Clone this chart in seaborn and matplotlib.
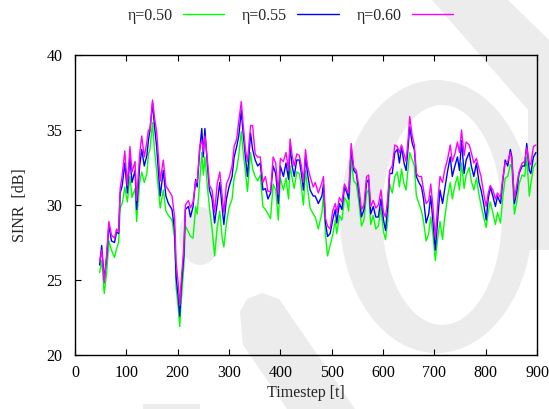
import numpy as np
import pandas as pd
import matplotlib
matplotlib.use("Agg")
import matplotlib.pyplot as plt
from matplotlib.patches import Ellipse, Polygon, Rectangle
import seaborn as sns

# Simulation timesteps shared by all three runs
timestep = [48, 52, 57, 62, 66, 71, 77, 81, 85, 88, 92, 97, 102, 107, 111, 117, 120, 126, 130, 135,
            140, 143, 146, 151, 155, 159, 166, 172, 177, 182, 189, 194, 197, 201, 204, 207, 212, 215, 221, 225,
            230, 235, 238, 243, 247, 250, 253, 258, 262, 267, 272, 277, 282, 287, 290, 295, 300, 306, 310, 315,
            319, 324, 327, 332, 336, 342, 346, 351, 356, 361, 366, 371, 376, 381, 386, 391, 396, 400, 406, 411,
            416, 419, 423, 427, 432, 437, 441, 445, 449, 453, 458, 464, 468, 474, 481, 484, 488, 492, 497, 502,
            507, 510, 515, 520, 525, 530, 533, 538, 543, 548, 553, 558, 563, 568, 572, 576, 581, 586, 591, 596,
            601, 605, 609, 613, 618, 623, 628, 632, 636, 641, 645, 649, 652, 657, 661, 665, 670, 675, 679, 684,
            689, 693, 697, 702, 707, 711, 716, 720, 726, 731, 735, 740, 745, 749, 753, 758, 762, 768, 772, 777,
            782, 787, 791, 796, 801, 805, 809, 814, 819, 823, 829, 833, 838, 843, 848, 851, 856, 861, 865, 871,
            876, 880, 885, 888, 893, 898]

# SINR [dB] for eta = 0.50
sinr_050 = [25.5, 26.3, 24.1, 25.6, 27.6, 27.0, 26.5, 27.1, 27.5, 29.8, 30.1, 31.2, 30.2, 31.9, 30.5, 31.1, 28.9, 31.5, 32.2, 31.5,
            32.1, 33.4, 33.7, 35.5, 33.6, 32.3, 29.8, 31.0, 29.6, 29.3, 29.0, 27.8, 24.5, 23.2, 21.9, 23.6, 25.9, 28.6, 28.2, 27.9,
            27.8, 29.9, 29.4, 31.6, 33.5, 32.0, 33.2, 31.2, 29.8, 28.4, 26.6, 28.5, 29.6, 27.7, 27.2, 28.8, 29.8, 30.4, 31.8, 32.4,
            33.3, 34.9, 33.7, 32.2, 30.9, 33.5, 32.4, 31.9, 31.6, 32.0, 29.9, 29.7, 29.4, 29.1, 31.4, 31.0, 29.0, 31.8, 31.0, 31.8,
            30.4, 32.6, 31.8, 31.1, 32.2, 32.1, 31.2, 30.0, 32.3, 31.1, 29.8, 29.4, 29.2, 28.4, 29.5, 30.6, 28.0, 26.6, 27.3, 28.0,
            29.0, 28.1, 29.3, 29.0, 30.5, 30.2, 29.6, 33.0, 31.6, 31.4, 30.2, 28.6, 29.0, 30.8, 31.0, 28.7, 29.3, 28.4, 28.6, 29.8,
            28.2, 27.7, 28.9, 31.4, 30.8, 31.9, 32.2, 31.2, 32.4, 31.4, 31.0, 32.5, 33.5, 33.0, 32.6, 30.6, 30.1, 29.6, 28.9, 27.6,
            28.1, 29.2, 28.1, 26.3, 27.9, 28.9, 27.7, 29.1, 30.6, 31.5, 30.4, 31.3, 31.9, 31.0, 32.8, 31.1, 32.0, 32.5, 31.6, 31.0,
            31.8, 30.7, 30.0, 29.2, 28.5, 29.5, 30.2, 29.5, 28.7, 29.5, 28.8, 30.4, 31.8, 31.9, 32.7, 32.5, 29.4, 30.3, 31.4, 32.0,
            31.9, 33.2, 30.6, 31.4, 32.5, 32.8]

# SINR [dB] for eta = 0.55
sinr_055 = [26.0, 27.3, 25.0, 26.6, 28.7, 27.6, 27.5, 28.2, 28.1, 30.8, 31.3, 32.8, 30.8, 33.2, 31.5, 32.3, 29.7, 32.6, 33.7, 32.6,
            33.3, 34.3, 35.0, 36.8, 35.2, 33.9, 30.6, 32.3, 30.6, 30.1, 29.7, 28.3, 25.2, 23.9, 22.6, 24.5, 26.6, 29.7, 29.9, 29.2,
            29.9, 31.7, 31.2, 33.7, 35.1, 33.2, 35.1, 32.6, 31.0, 30.4, 28.8, 30.1, 31.5, 29.7, 28.7, 30.4, 31.2, 31.9, 33.2, 33.9,
            34.6, 36.3, 35.0, 33.2, 31.9, 34.8, 33.7, 33.0, 32.6, 32.8, 31.0, 31.1, 30.4, 30.8, 32.6, 32.1, 30.1, 32.6, 31.9, 32.8,
            31.7, 33.9, 32.6, 31.9, 33.0, 33.0, 32.1, 31.0, 33.2, 32.1, 31.0, 30.6, 30.6, 30.1, 30.6, 31.4, 28.8, 27.9, 28.1, 29.0,
            29.7, 28.8, 30.1, 29.7, 31.2, 30.8, 30.4, 33.7, 32.3, 32.1, 30.8, 29.2, 29.7, 31.5, 31.7, 29.4, 29.9, 29.2, 29.2, 30.4,
            29.0, 28.3, 29.9, 32.1, 32.1, 33.5, 33.7, 32.8, 33.9, 32.8, 32.3, 33.9, 35.2, 34.1, 33.7, 31.9, 31.5, 31.2, 30.4, 28.8,
            29.4, 30.6, 29.0, 27.0, 29.2, 31.0, 30.1, 31.0, 32.3, 33.2, 31.9, 32.6, 33.2, 32.3, 34.3, 32.1, 33.0, 33.5, 32.6, 31.9,
            32.8, 31.5, 31.0, 30.1, 29.0, 30.4, 31.2, 30.6, 29.9, 30.6, 30.1, 31.5, 33.0, 32.6, 33.7, 33.2, 30.1, 31.0, 32.1, 32.6,
            32.6, 34.1, 32.3, 32.1, 33.2, 33.5]

# SINR [dB] for eta = 0.60
sinr_060 = [26.2, 27.0, 24.8, 26.9, 28.9, 28.0, 27.8, 28.4, 28.2, 31.1, 32.0, 33.6, 31.3, 33.9, 32.2, 32.9, 30.3, 33.4, 34.6, 33.2,
            34.2, 35.0, 34.9, 37.0, 35.8, 34.9, 31.6, 33.0, 31.3, 31.0, 30.6, 29.2, 26.2, 24.8, 23.3, 25.0, 27.2, 30.0, 30.3, 29.8,
            30.2, 31.6, 31.5, 33.9, 34.3, 33.6, 34.6, 33.0, 31.3, 31.0, 29.5, 31.4, 32.2, 30.5, 29.5, 31.4, 31.8, 32.6, 33.9, 34.4,
            35.6, 36.9, 35.6, 33.7, 32.9, 35.3, 35.3, 33.4, 33.2, 33.2, 31.5, 31.9, 30.9, 30.9, 33.2, 32.8, 30.7, 33.1, 32.9, 33.5,
            32.3, 34.4, 33.3, 32.6, 33.4, 33.3, 32.6, 31.5, 33.7, 32.6, 31.9, 31.2, 31.5, 30.8, 31.5, 31.9, 29.1, 28.6, 28.4, 29.6,
            30.1, 29.5, 30.5, 30.2, 31.4, 31.0, 30.8, 34.1, 32.5, 32.3, 31.2, 29.7, 30.0, 31.9, 32.0, 29.9, 30.3, 29.8, 30.0, 31.0,
            29.5, 29.2, 30.4, 32.3, 32.6, 34.0, 33.9, 33.5, 34.0, 33.4, 32.9, 34.4, 35.9, 34.6, 34.0, 32.1, 31.9, 31.9, 31.0, 30.1,
            30.3, 31.4, 30.0, 27.8, 30.3, 31.9, 31.5, 32.3, 33.1, 34.0, 32.9, 33.4, 34.2, 33.5, 35.0, 33.3, 34.2, 34.0, 33.5, 32.8,
            33.1, 32.4, 31.9, 30.8, 29.9, 30.8, 31.3, 31.0, 30.4, 30.8, 30.5, 31.7, 32.8, 32.9, 33.5, 33.0, 30.4, 31.4, 32.2, 32.8,
            32.9, 33.8, 32.8, 32.7, 33.9, 34.0]

series_labels = ["η=0.50", "η=0.55", "η=0.60"]
series_colors = ["#00ff00", "#0000ff", "#ff00ff"]
x_ticks = [0, 100, 200, 300, 400, 500, 600, 700, 800, 900]
y_ticks = [20, 25, 30, 35, 40]

df = pd.concat([
    pd.DataFrame({"Timestep": timestep, "SINR": vals, "eta": lab})
    for vals, lab in zip([sinr_050, sinr_055, sinr_060], series_labels)
], ignore_index=True)

sns.set_style("ticks")
plt.rcParams["font.family"] = ["Liberation Serif", "DejaVu Serif"]

W, H = 549, 409
fig = plt.figure(figsize=(W / 100, H / 100), dpi=100)
fig.patch.set_facecolor("white")

# Faint background emblem, drawn in pixel coordinates behind the plot
bg = fig.add_axes([0, 0, 1, 1], zorder=-1)
bg.set_xlim(0, W)
bg.set_ylim(H, 0)
bg.axis("off")
mark = "#ececec"
bg.add_patch(Polygon([(432, 0), (508, 0), (549, 40), (549, 250), (528, 250), (528, 110)],
                     closed=True, fc=mark, ec="none"))
bg.add_patch(Ellipse((436.5, 216.5), 193, 273, fc=mark, ec="none"))
bg.add_patch(Ellipse((442, 215), 120, 220, fc="white", ec="none"))
bg.add_patch(Polygon([(240, 312), (247, 299), (262, 293), (279, 299), (355, 409), (287, 409), (243, 345)],
                     closed=True, fc=mark, ec="none"))
bg.add_patch(Ellipse((200, 236), 42, 58, fc=mark, ec="none"))
bg.add_patch(Rectangle((143, 404), 57, 5, fc=mark, ec="none"))

ax = fig.add_axes([75 / W, 1 - 355 / H, (537 - 75) / W, (355 - 55) / H])
ax.set_facecolor("none")

sns.lineplot(data=df, x="Timestep", y="SINR", hue="eta", hue_order=series_labels,
             palette=dict(zip(series_labels, series_colors)), estimator=None,
             linewidth=1.0, ax=ax, legend=True)

fs = 11.5
ax.set_xlim(0, 900)
ax.set_ylim(20, 40)
ax.set_xticks(x_ticks)
ax.set_yticks(y_ticks)
ax.set_xlabel("Timestep [t]", fontsize=fs, labelpad=3)
ax.set_ylabel("SINR  [dB]", fontsize=fs, labelpad=13)
ax.tick_params(axis="both", direction="in", length=4, width=0.8, labelsize=fs, colors="black")
ax.tick_params(axis="x", top=True, pad=7)
ax.tick_params(axis="y", right=False, pad=9)
for s in ax.spines.values():
    s.set_visible(True)
    s.set_linewidth(1.0)
    s.set_color("black")

handles, labels = ax.get_legend_handles_labels()
ax.get_legend().remove()
fig.legend(handles, labels, loc="center", bbox_to_anchor=(0.529, 0.961), ncol=3,
           frameon=False, markerfirst=False, fontsize=fs, handlelength=2.6,
           handletextpad=0.65, columnspacing=1.1)

fig.savefig("out.png", dpi=100)
